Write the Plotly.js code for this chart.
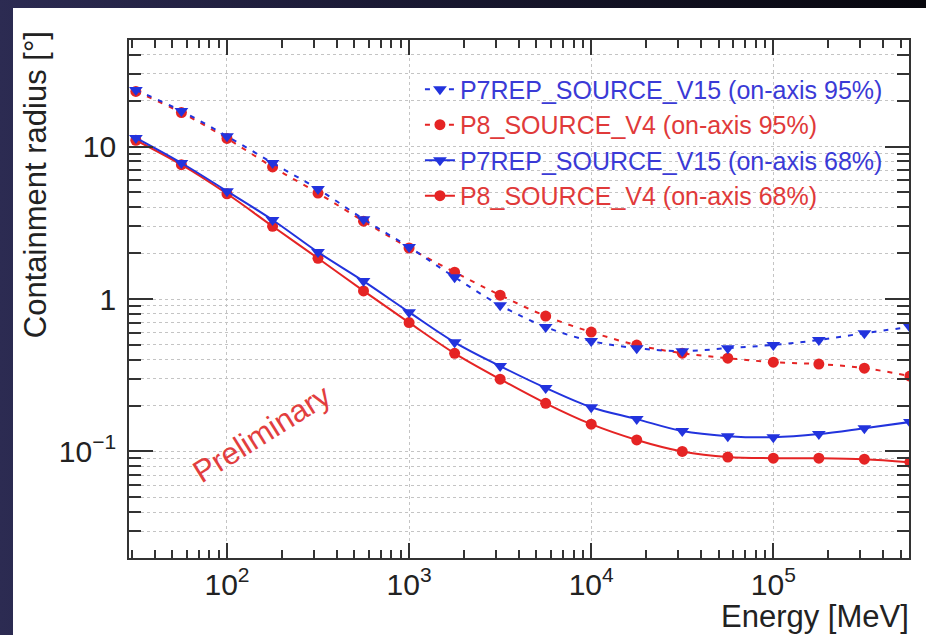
<!DOCTYPE html>
<html>
<head>
<meta charset="utf-8">
<script src="https://cdn.plot.ly/plotly-3.0.1.min.js"></script>
<style>
  html, body { margin: 0; padding: 0; }
  #frame { position: relative; width: 926px; height: 635px; background: linear-gradient(to right, #2c2b52 0%, #1b1a35 40%, #07070d 100%); overflow: hidden; }
  #white { position: absolute; left: 13px; top: 8px; width: 913px; height: 627px; background: #ffffff; }
  #chart { position: absolute; left: 0; top: 0; width: 926px; height: 635px; }
</style>
</head>
<body>
<div id="frame"><div id="white"></div><div id="chart"></div></div>
<script>
// Energy bin centres [MeV]
const energyMeV = [31.6, 56.2, 100, 178, 316, 562, 1000, 1778, 3162, 5623, 10000, 17783, 31623, 56234, 100000, 177828, 316228, 562341];
// Containment radius [deg]
const p7rep95 = [23.5, 17.1, 11.7, 7.8, 5.26, 3.34, 2.19, 1.39, 0.91, 0.655, 0.53, 0.476, 0.455, 0.476, 0.50, 0.538, 0.597, 0.655];
const p8_95   = [23.0, 16.7, 11.3, 7.35, 4.95, 3.24, 2.16, 1.50, 1.06, 0.773, 0.607, 0.499, 0.441, 0.409, 0.385, 0.374, 0.352, 0.312];
const p7rep68 = [11.4, 7.8, 5.1, 3.3, 2.03, 1.31, 0.82, 0.52, 0.363, 0.261, 0.195, 0.163, 0.136, 0.126, 0.124, 0.130, 0.142, 0.156];
const p8_68   = [11.0, 7.6, 4.9, 3.0, 1.85, 1.13, 0.70, 0.44, 0.298, 0.207, 0.151, 0.119, 0.100, 0.0918, 0.0903, 0.0903, 0.089, 0.085];
const seriesNames = [
  'P7REP_SOURCE_V15 (on-axis 95%)',
  'P8_SOURCE_V4 (on-axis 95%)',
  'P7REP_SOURCE_V15 (on-axis 68%)',
  'P8_SOURCE_V4 (on-axis 68%)'
];

const BLUE = '#2233dd', RED = '#e52424';
const BLUE_T = '#3a3ad6', RED_T = '#e03a3a';

function tr(y, name, color, tcolor, dash, symbol, rank) {
  return {
    x: energyMeV, y: y, type: 'scatter', mode: 'lines+markers',
    name: '<span style="color:' + tcolor + '">' + name + '</span>',
    line: { color: color, width: 2, dash: dash, shape: 'spline', smoothing: 1 },
    marker: { color: color, size: symbol === 'circle' ? 11 : 12, symbol: symbol },
    legendrank: rank
  };
}

const data = [
  tr(p8_95, seriesNames[1], RED, RED_T, '5px,7px', 'circle', 2),
  tr(p7rep95, seriesNames[0], BLUE, BLUE_T, '5px,7px', 'triangle-down', 1),
  tr(p8_68, seriesNames[3], RED, RED_T, 'solid', 'circle', 4),
  tr(p7rep68, seriesNames[2], BLUE, BLUE_T, 'solid', 'triangle-down', 3)
];

const FONT = 'Liberation Sans, Arial, sans-serif';
const gridCol = '#c4c4c4';

const layout = {
  width: 926, height: 635,
  margin: { l: 129, r: 17, t: 40, b: 77 },
  paper_bgcolor: 'rgba(0,0,0,0)',
  plot_bgcolor: '#ffffff',
  font: { family: FONT, color: '#222' },
  showlegend: true,
  legend: {
    x: 0.373, y: 0.949, xanchor: 'left', yanchor: 'top',
    bgcolor: 'rgba(0,0,0,0)', borderwidth: 0,
    font: { family: FONT, size: 25 },
    traceorder: 'normal', itemwidth: 30, tracegroupgap: 0
  },
  xaxis: {
    type: 'log', range: [1.462, 5.745],
    tickmode: 'linear', tick0: 0, dtick: 1, exponentformat: 'power',
    ticks: 'inside', ticklen: 15, tickwidth: 2, tickcolor: '#333',
    showline: true, linecolor: '#333', linewidth: 2, mirror: 'allticks',
    showgrid: true, gridcolor: gridCol, griddash: 'dot', gridwidth: 1,
    zeroline: false,
    tickfont: { family: FONT, size: 24, color: '#222' },
    minor: { dtick: 'D1', ticks: 'inside', ticklen: 8, tickwidth: 2, tickcolor: '#333', showgrid: false }
  },
  yaxis: {
    type: 'log', range: [-1.699, 1.699],
    tickmode: 'linear', tick0: 0, dtick: 1, exponentformat: 'power',
    ticks: 'inside', ticklen: 24, tickwidth: 2, tickcolor: '#333',
    showline: true, linecolor: '#333', linewidth: 2, mirror: 'allticks',
    showgrid: true, gridcolor: gridCol, griddash: 'dot', gridwidth: 1,
    zeroline: false, ticklabelstandoff: 6,
    tickfont: { family: FONT, size: 24, color: '#222' },
    minor: { dtick: 'D1', ticks: 'inside', ticklen: 12, tickwidth: 2, tickcolor: '#333', showgrid: true, gridcolor: gridCol, griddash: 'dot', gridwidth: 1 }
  },
  annotations: [
    { text: 'Energy [MeV]', xref: 'paper', yref: 'paper', x: 1.002, y: -0.112,
      xanchor: 'right', yanchor: 'middle', showarrow: false,
      font: { family: FONT, size: 31, color: '#222' } },
    { text: 'Containment radius [°]', xref: 'paper', yref: 'paper', x: -0.1205, y: 1.02,
      xanchor: 'center', yanchor: 'top', textangle: -90, showarrow: false,
      font: { family: FONT, size: 31, color: '#222' } },
    { text: 'Preliminary', xref: 'paper', yref: 'paper', x: 0.1705, y: 0.241,
      xanchor: 'center', yanchor: 'middle', textangle: -32, showarrow: false,
      font: { family: FONT, size: 31, color: '#e23e3e' } }
  ]
};

Plotly.newPlot('chart', data, layout, { displayModeBar: false, staticPlot: true });
</script>
</body>
</html>
